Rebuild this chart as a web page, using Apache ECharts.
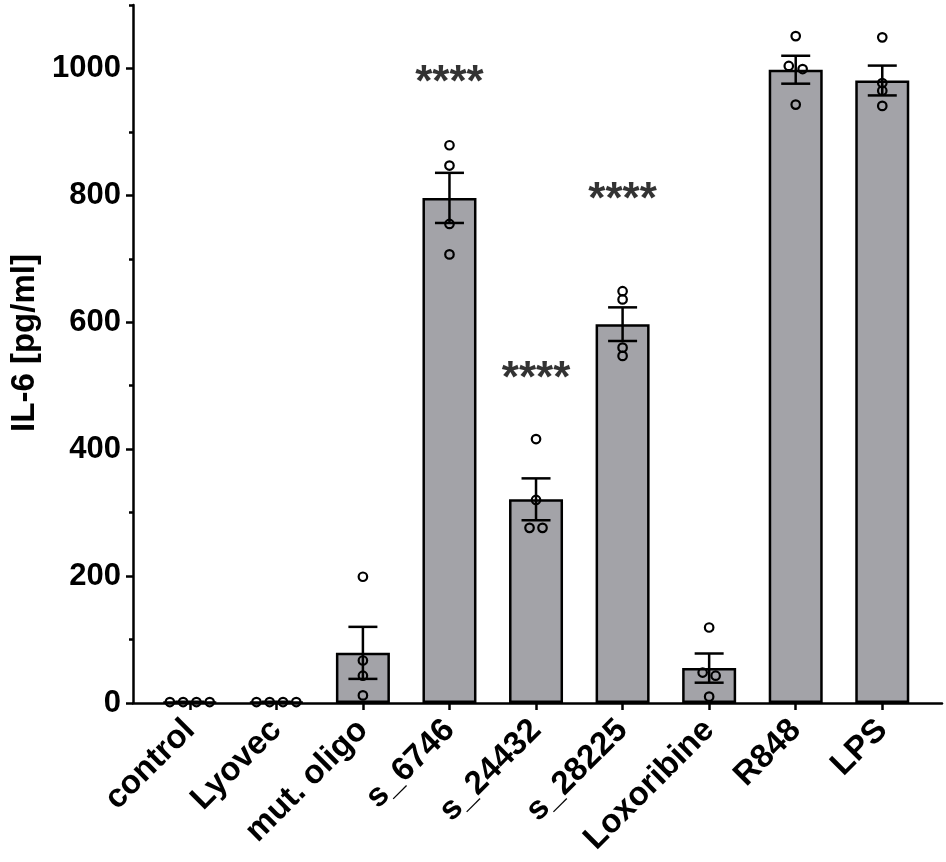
<!DOCTYPE html>
<html>
<head>
<meta charset="utf-8">
<script src="https://cdn.jsdelivr.net/npm/echarts@6.0.0/dist/echarts.min.js"></script>
<style>html,body{margin:0;padding:0;background:#fff;}#c{width:946px;height:862px;}</style>
</head>
<body>
<div id="c"></div>
<script>
// ---- data ----
const categories = ['control', 'Lyovec', 'mut. oligo', 's_6746', 's_24432', 's_28225', 'Loxoribine', 'R848', 'LPS'];
const means = [1.5, 1.5, 79, 796, 321, 597, 55, 998, 981];
const sems = [0.5, 0.5, 41, 39.5, 33, 26.5, 23, 22, 23.5];
// individual replicate values per group
const replicates = [
  [1.5, 1.5, 1.5, 1.5],
  [1.5, 1.5, 1.5, 1.5],
  [199, 67, 43, 12],
  [879, 847, 755, 707],
  [416, 320, 276, 276],
  [649, 636, 560, 547],
  [119, 48, 43, 10],
  [1051, 1004, 999, 943],
  [1049, 977, 965, 941]
];
// horizontal jitter of replicates (in category units)
const jitter = [
  [-0.23, -0.077, 0.077, 0.23],
  [-0.23, -0.077, 0.077, 0.23],
  [0, 0, 0, 0],
  [0, 0, 0, 0],
  [0, 0, -0.075, 0.075],
  [0, 0, 0, 0],
  [0, -0.075, 0.075, 0],
  [0, -0.08, 0.08, 0],
  [0, 0, 0, 0]
];
// significance annotations
const sigCategory = [3, 4, 5];
const sigLabel = ['****', '****', '****'];
const sigY = [976, 509, 791];
const yMajorTicks = [0, 200, 400, 600, 800, 1000];
const yMinorTicks = [100, 300, 500, 700, 900, 1100];

// ---- derived series data ----
const barData = means.map((m, i) => [i, m]);
const errData = means.map((m, i) => [i, m - sems[i], m + sems[i]]);
const pointData = [];
replicates.forEach((vals, i) => vals.forEach((v, j) => pointData.push([i + jitter[i][j], v])));
const sigData = sigCategory.map((c, k) => ({ value: [c, sigY[k]], label: { formatter: sigLabel[k] } }));
const catTicks = categories.map((c, i) => i);

const FONT = '"Liberation Sans", Arial, Helvetica, sans-serif';
const chart = echarts.init(document.getElementById('c'), null, { renderer: 'canvas' });

const option = {
  backgroundColor: '#fff',
  animation: false,
  grid: { left: 130, right: 4, top: 5, bottom: 159, containLabel: false },
  xAxis: {
    type: 'value',
    min: -0.656,
    max: 8.69,
    splitLine: { show: false },
    axisLine: { show: true, onZero: false, lineStyle: { color: '#000', width: 2.5 } },
    axisTick: { show: true, customValues: catTicks, length: 7, lineStyle: { color: '#000', width: 2.5 } },
    axisLabel: {
      show: true,
      customValues: catTicks,
      formatter: v => categories[Math.round(v)],
      rotate: 45,
      margin: 22,
      color: '#000',
      fontFamily: FONT,
      fontWeight: 'bold',
      fontSize: 33
    }
  },
  yAxis: [
    {
      type: 'value',
      min: 0,
      max: 1100,
      name: 'IL-6 [pg/ml]',
      nameLocation: 'middle',
      nameGap: 92,
      nameTextStyle: { color: '#000', fontFamily: FONT, fontWeight: 'bold', fontSize: 33, padding: [0, 0, 0, 22] },
      splitLine: { show: false },
      axisLine: { show: true, onZero: false, lineStyle: { color: '#000', width: 2.5 } },
      axisTick: { show: true, customValues: yMajorTicks, length: 7, lineStyle: { color: '#000', width: 2.5 } },
      axisLabel: {
        customValues: yMajorTicks,
        formatter: v => String(v),
        margin: 12,
        color: '#000',
        fontFamily: FONT,
        fontWeight: 'bold',
        fontSize: 31
      }
    },
    {
      type: 'value',
      min: 0,
      max: 1100,
      position: 'left',
      offset: 0,
      splitLine: { show: false },
      axisLine: { show: false, onZero: false },
      axisTick: { show: true, customValues: yMinorTicks, length: 4, lineStyle: { color: '#000', width: 2.5 } },
      axisLabel: { show: false }
    }
  ],
  series: [
    {
      type: 'bar',
      data: barData,
      barWidth: 54,
      itemStyle: { color: '#a3a3a8', borderColor: '#000', borderWidth: 2.5 },
      z: 2
    },
    {
      type: 'custom',
      data: errData,
      z: 3,
      renderItem: function (params, api) {
        const x = api.value(0);
        const lo = api.coord([x, api.value(1)]);
        const hi = api.coord([x, api.value(2)]);
        const half = 14.5;
        const st = { stroke: '#000', lineWidth: 2.5 };
        return {
          type: 'group',
          children: [
            { type: 'line', shape: { x1: lo[0], y1: lo[1], x2: hi[0], y2: hi[1] }, style: st },
            { type: 'line', shape: { x1: hi[0] - half, y1: hi[1], x2: hi[0] + half, y2: hi[1] }, style: st },
            { type: 'line', shape: { x1: lo[0] - half, y1: lo[1], x2: lo[0] + half, y2: lo[1] }, style: st }
          ]
        };
      }
    },
    {
      type: 'scatter',
      data: pointData,
      symbol: 'circle',
      symbolSize: 8.5,
      itemStyle: { color: 'rgba(0,0,0,0)', borderColor: '#000', borderWidth: 2.2, opacity: 1 },
      z: 4
    },
    {
      type: 'scatter',
      data: sigData,
      symbolSize: 0,
      label: {
        show: true,
        position: 'inside',
        color: '#000',
        fontFamily: FONT,
        fontSize: 44,
        fontWeight: 'bold'
      },
      z: 5
    }
  ]
};
chart.setOption(option);
</script>
</body>
</html>
